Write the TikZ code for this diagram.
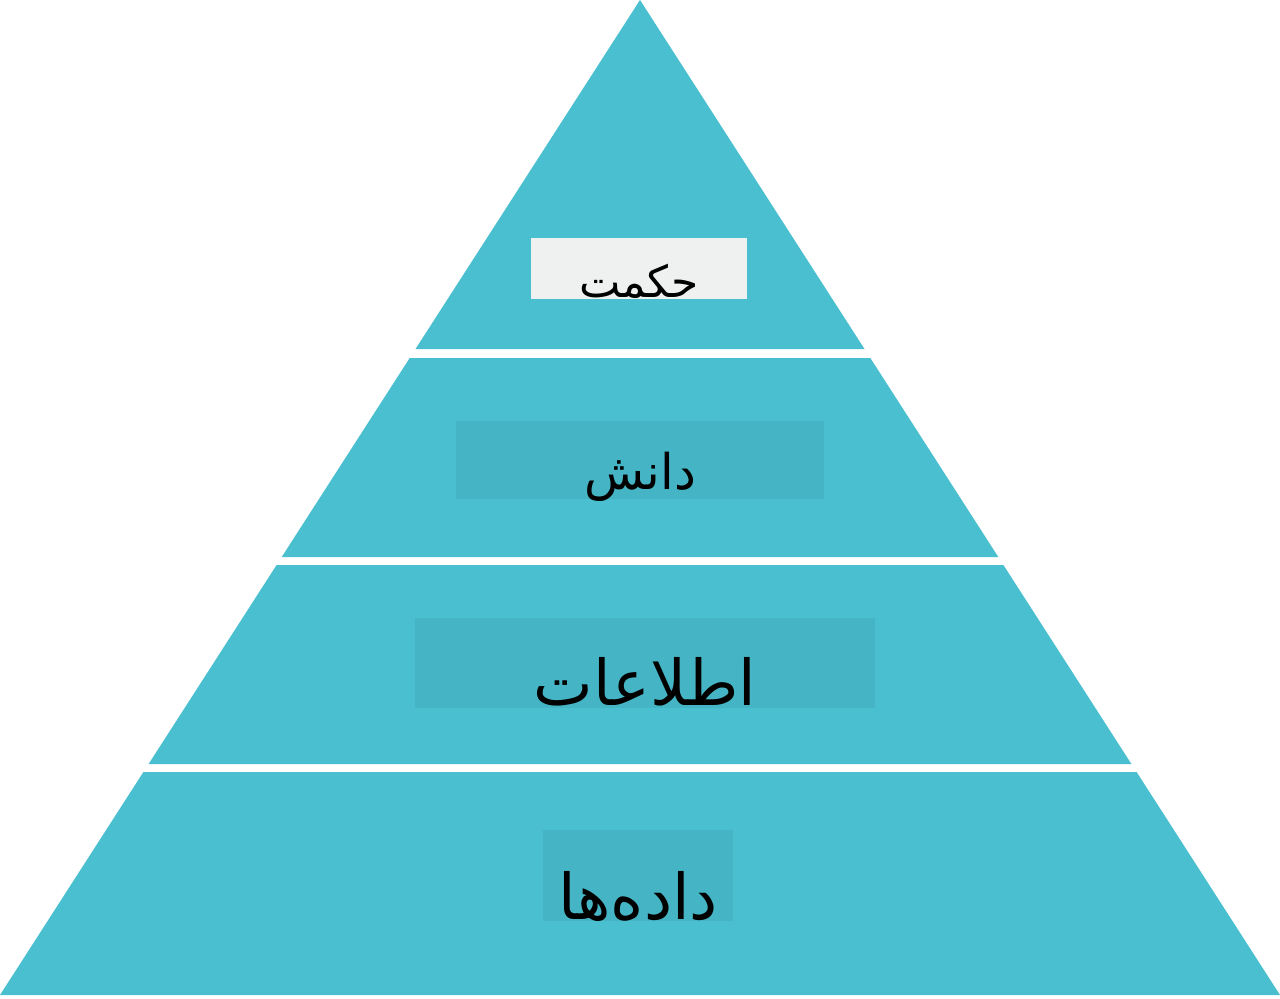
\documentclass[tikz,border=0pt]{standalone}
\usepackage{fontspec}
\newfontfamily\arabicfont[Script=Arabic]{DejaVu Sans}
\TeXXeTstate=1
\usepackage{tikz}
\usetikzlibrary{positioning}
\definecolor{tier}{RGB}{74,191,207}
\definecolor{tierbox}{RGB}{69,181,198}
\definecolor{topbox}{RGB}{238,241,240}
\tikzset{
  tierfill/.style={fill=tier},
  tierlabel/.style={inner sep=0pt, anchor=south, fill=tierbox}
}

\begin{document}
\begin{tikzpicture}
\useasboundingbox (0,0) rectangle (12.8,9.98);
% pyramid tiers, top to bottom
\fill[tierfill] (6.4,9.98) -- (8.645,6.49) -- (4.155,6.49) -- cycle;
\fill[tierfill] (4.097,6.40) -- (8.703,6.40) -- (9.983,4.41) -- (2.817,4.41) -- cycle;
\fill[tierfill] (2.766,4.33) -- (10.034,4.33) -- (11.314,2.34) -- (1.486,2.34) -- cycle;
\fill[tierfill] (1.434,2.26) -- (11.366,2.26) -- (12.8,0.03) -- (0,0.03) -- cycle;
% labels
\node[tierlabel, fill=topbox, minimum width=2.16cm, text height=0.59cm, text depth=0.02cm,
  font=\arabicfont\fontsize{12.5}{14}\selectfont] (wisdom) at (6.39,6.98) {\beginR حکمت\endR};
\node[tierlabel, minimum width=3.68cm, text height=0.68cm, text depth=0.10cm,
  font=\arabicfont\fontsize{14}{16}\selectfont] (knowledge) at (6.40,4.98) {\beginR دانش\endR};
\node[tierlabel, minimum width=4.60cm, text height=0.87cm, text depth=0.03cm,
  font=\arabicfont\fontsize{18}{20}\selectfont] (information) at (6.45,2.89) {\beginR اطلاعات\endR};
\node[tierlabel, minimum width=1.90cm, text height=0.89cm, text depth=0.02cm,
  font=\arabicfont\fontsize{18}{20}\selectfont] (data) at (6.38,0.76) {\beginR داده‌ها\endR};
\end{tikzpicture}
\end{document}
